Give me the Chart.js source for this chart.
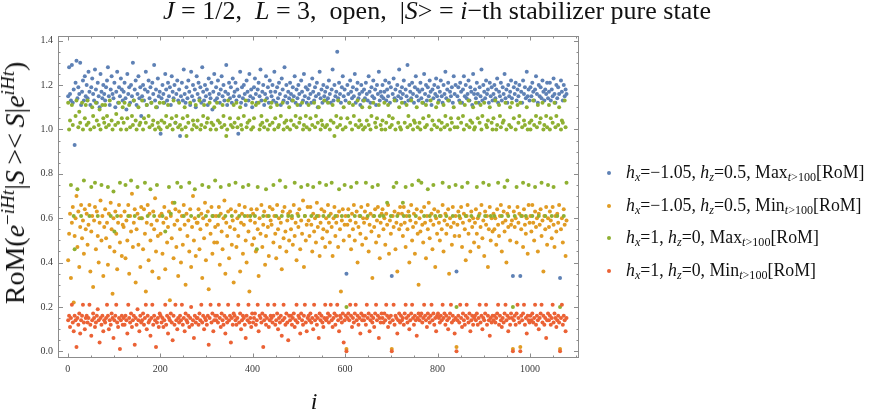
<!DOCTYPE html>
<html>
<head>
<meta charset="utf-8">
<script src="https://cdn.jsdelivr.net/npm/chart.js@4.4.1/dist/chart.umd.min.js"></script>
<style>
  html, body { margin: 0; padding: 0; background: #fff; }
  #wrap { position: relative; width: 872px; height: 415px; overflow: hidden; font-family: 'Liberation Serif', 'Times New Roman', serif; color: #111; }
  #chart { position: absolute; left: 0; top: 0; }
  .title { position: absolute; left: 437px; top: -2px; transform: translateX(-50%); font-size: 26px; white-space: pre; line-height: 1; }
  .ylab { position: absolute; left: 15px; top: 183px; transform: translate(-50%, -50%) rotate(-90deg); font-size: 28px; white-space: pre; line-height: 1; }
  .xlab { position: absolute; left: 314px; top: 389px; transform: translateX(-50%); font-size: 24px; font-style: italic; line-height: 1; }
  .legend { position: absolute; left: 605px; top: 161px; font-size: 17.8px; }
  .legend div { position: relative; height: 32.7px; padding-left: 21px; white-space: pre; line-height: 22px; }
  .legend span.dot { position: absolute; left: 2px; top: 10px; width: 4px; height: 4px; border-radius: 50%; }
  sub, sup { font-size: 0.68em; line-height: 0; }
  sup { vertical-align: 0.55em; }
  sub { vertical-align: -0.25em; }
</style>
</head>
<body>
<div id="wrap">
  <canvas id="chart" width="872" height="415"></canvas>
  <div class="title"><i>J</i> = 1/2,  <i>L</i> = 3,  open,  |<i>S</i>&gt; = <i>i</i>−th stabilizer pure state</div>
  <div class="ylab">RoM(<i>e</i><sup>−<i>iHt</i></sup>|<i>S</i>&thinsp;&gt;&lt;&thinsp;<i>S</i>|<i>e</i><sup><i>iHt</i></sup>)</div>
  <div class="xlab">i</div>
  <div class="legend" id="legend"></div>
</div>
<script>
// Valores x100, un punto cada 2 estados (i = 1, 3, 5, ... 1079)
const iStep = 2;

// hx=-1.05, hz=0.5, Max[RoM]
const maxHx105 = [
  115,128,116,113,129,112,118,93,121,131,114,119,116,130,111,117,122,113,124,115,
  120,114,126,117,111,119,123,116,113,127,118,112,121,115,110,125,117,114,120,116,
  113,119,122,128,115,111,118,124,116,114,121,110,117,126,112,119,115,123,118,113,
  117,121,114,109,125,116,119,112,120,115,130,113,118,122,111,116,124,114,119,106,
  115,120,113,118,126,111,117,122,114,119,112,121,116,129,113,118,110,123,115,117,
  98,114,120,116,112,125,118,113,121,115,119,111,124,117,114,120,103,116,122,113,
  118,97,115,121,113,127,116,112,119,114,122,117,111,126,115,120,113,118,110,124,
  116,121,114,119,112,128,117,113,120,115,118,111,123,116,114,121,109,117,125,113,
  119,114,122,116,112,118,124,115,120,113,117,129,111,116,121,114,119,112,123,115,
  117,121,113,118,98,115,126,112,119,114,120,116,111,122,117,113,125,115,118,110,
  114,119,123,116,112,118,121,115,127,113,117,120,111,116,124,114,119,112,122,117,
  115,120,113,126,117,112,119,114,121,116,111,123,118,113,128,115,120,112,117,114,
  121,116,113,119,115,124,112,118,114,120,116,111,122,117,113,125,115,119,112,118,
  114,120,116,112,123,117,113,119,115,121,110,116,126,114,118,112,120,115,117,113,
  119,114,122,116,112,118,127,113,120,115,117,135,114,121,116,112,119,124,115,118,
  113,35,120,116,112,122,117,114,119,115,125,112,118,121,114,116,111,120,117,113,
  118,114,121,116,113,124,117,112,119,115,122,114,118,111,120,116,126,113,117,115,
  120,114,117,122,113,118,115,121,112,119,34,116,123,114,118,113,120,115,127,117,
  114,119,116,122,112,118,115,129,113,120,117,114,121,116,112,119,124,115,118,113,
  117,121,114,118,112,125,116,120,113,119,115,122,117,111,118,114,120,116,123,115,
  119,113,117,122,115,112,120,116,126,114,118,121,113,117,115,119,112,124,116,120,
  36,115,119,113,121,117,112,118,124,115,120,114,116,122,113,119,117,111,125,116,
  118,114,121,116,112,119,115,127,113,120,117,114,122,116,118,112,121,115,119,113,
  116,120,114,118,123,112,117,115,121,113,119,116,125,114,118,112,120,115,117,122,
  114,34,119,116,121,113,118,115,120,34,117,112,122,116,119,114,126,115,118,113,
  119,115,121,117,113,118,124,116,112,120,115,119,114,122,117,113,118,116,121,114,
  117,121,113,118,115,123,116,112,120,114,119,116,33,122,117,113,120,115,118,116
];

// hx=-1.05, hz=0.5, Min[RoM]
const minHx105 = [
  41,53,62,33,58,65,22,52,60,70,47,63,38,56,66,51,59,44,64,55,
  62,48,57,66,36,54,61,29,59,65,46,63,52,40,58,68,50,61,34,56,
  64,51,58,39,62,47,67,55,26,60,45,63,53,37,58,66,49,61,43,57,
  56,63,42,59,50,66,35,61,54,71,47,58,64,31,55,62,48,60,38,65,
  60,46,64,53,27,58,66,41,62,50,57,36,63,55,69,45,59,52,33,61,
  53,62,44,58,65,37,60,49,56,63,23,61,51,67,42,57,64,47,59,34,
  63,55,40,61,48,66,57,30,62,52,59,45,64,38,56,70,50,60,43,58,
  58,64,46,55,62,33,60,51,67,41,57,63,28,59,53,65,44,61,49,56,
  61,49,57,65,39,62,54,46,60,68,35,58,52,63,42,56,64,48,59,31,
  55,63,47,60,52,66,36,58,62,44,57,65,50,40,61,54,27,59,64,48,
  62,51,58,45,64,55,34,60,53,66,47,57,63,39,52,61,56,43,65,59,
  57,64,49,61,53,42,66,55,60,47,58,37,63,51,65,54,45,59,62,50,
  63,55,60,48,66,52,58,41,62,56,64,46,59,53,68,38,61,50,57,65,
  59,52,65,57,45,62,54,60,49,67,56,61,43,58,64,51,55,63,47,60,
  54,66,58,49,62,56,43,60,65,52,58,61,47,63,55,27,59,64,50,57,
  61,1,57,64,52,59,46,62,55,66,50,58,63,40,56,61,53,65,48,60,
  58,63,51,60,66,45,57,62,54,33,61,56,64,49,59,65,52,42,58,62,
  64,55,60,48,62,57,66,44,59,53,1,61,56,63,46,58,36,62,55,65,
  57,62,52,65,58,47,61,55,63,40,59,66,50,56,62,44,58,64,53,30,
  60,54,63,57,49,65,58,42,61,55,67,51,59,62,46,57,64,38,60,53,
  63,58,50,61,55,66,45,59,62,53,57,64,35,60,56,48,65,58,52,61,
  2,57,63,52,60,65,47,58,62,55,41,61,66,53,59,45,63,56,60,49,
  58,64,53,60,47,62,56,66,51,59,43,63,57,61,38,55,65,50,60,54,
  62,55,60,48,64,57,52,61,66,45,58,63,54,59,40,62,56,65,50,57,
  59,1,63,56,60,49,65,58,62,2,55,61,47,64,57,53,60,44,66,58,
  61,54,66,58,50,63,56,60,45,62,57,64,52,59,36,61,55,65,48,60,
  56,63,59,51,65,57,47,61,54,62,58,66,1,55,60,49,64,57,43,59
];

// hx=1, hz=0, Max[RoM]
const maxHx1 = [
  112,100,104,75,111,102,61,46,106,113,73,101,108,103,61,112,100,77,105,111,
  102,113,103,61,100,74,110,106,101,76,112,104,61,102,109,100,75,111,105,103,
  111,101,106,74,102,113,61,104,100,72,54,102,107,61,103,112,76,100,105,110,
  103,112,75,100,105,61,111,101,77,106,102,113,61,104,100,74,110,102,103,60,
  113,100,105,76,103,111,61,106,101,73,112,102,104,61,100,110,75,103,101,112,
  100,104,61,112,103,54,106,101,111,74,102,62,105,100,113,67,103,106,76,101,
  112,102,74,100,105,61,110,101,97,106,103,76,112,61,100,104,102,73,111,101,
  104,61,113,100,102,75,106,111,101,61,103,105,74,112,100,103,61,102,110,77,
  100,112,104,61,103,74,101,111,106,102,61,97,100,113,75,105,102,61,101,111,
  103,76,112,101,105,61,110,102,100,74,106,61,113,101,103,75,104,61,100,112,
  101,105,61,111,46,74,112,100,102,106,103,61,101,113,73,104,100,61,102,110,
  112,103,75,100,105,61,111,101,102,77,106,61,112,100,103,74,104,101,61,110,
  100,104,61,113,102,76,106,101,111,61,103,105,74,112,100,102,61,106,101,75,
  111,100,105,61,102,74,112,101,106,61,103,110,76,100,104,102,61,113,101,75,
  102,112,61,100,104,76,111,103,97,61,106,101,113,73,102,105,61,100,110,75,
  101,20,105,61,112,103,74,100,111,106,61,102,76,113,101,104,61,102,110,100,
  113,101,76,104,61,102,110,100,106,74,112,61,103,101,105,75,111,61,102,100,
  104,61,112,100,103,67,111,106,101,61,102,105,74,113,100,76,61,103,110,101,
  100,112,67,61,103,74,111,101,106,61,102,113,75,100,104,103,61,110,101,77,
  103,100,76,112,105,61,101,111,102,73,106,61,113,100,104,75,102,61,110,101,
  112,104,61,100,103,76,111,101,106,61,102,113,74,100,105,103,61,110,101,75,
  20,101,105,61,112,103,74,106,100,111,61,102,76,113,101,104,61,103,110,100,
  101,112,74,105,61,103,111,100,106,76,112,61,102,101,104,75,110,61,103,100,
  105,61,113,100,102,76,111,106,101,61,103,104,74,112,100,77,61,102,110,101,
  112,20,105,61,100,74,111,103,106,112,61,101,76,104,102,61,110,100,75,103,
  100,104,61,113,102,74,106,101,111,61,103,105,76,112,100,102,61,106,101,75,
  111,100,105,61,103,74,112,101,106,61,102,110,20,100,104,103,61,113,101,76
];

// hx=1, hz=0, Min[RoM]
const minHx1 = [
  14,16,11,15,21,13,9,16,14,2,15,12,17,8,14,16,21,13,10,15,
  16,13,15,21,12,7,14,17,15,11,13,16,19,14,4,15,12,16,9,14,
  13,15,21,16,10,14,12,17,15,6,14,16,21,13,11,15,1,14,16,12,
  15,12,16,14,8,21,15,13,17,11,14,16,3,15,12,19,14,9,16,13,
  14,17,12,15,21,10,16,13,14,7,15,21,12,16,14,2,13,15,11,17,
  16,13,15,11,14,21,12,16,8,15,14,17,13,5,16,12,21,14,10,15,
  13,16,14,21,12,15,9,17,14,13,16,11,15,20,12,14,6,16,13,15,
  15,12,17,14,21,13,16,10,15,14,12,16,3,15,21,13,17,9,14,16,
  14,16,13,21,15,11,17,14,12,16,8,15,13,21,14,16,4,15,12,17,
  16,14,12,15,21,13,17,10,14,16,15,12,6,16,14,21,13,15,11,17,
  13,15,17,12,14,21,9,16,15,13,17,2,14,16,12,15,21,11,14,16,
  15,13,16,21,12,14,17,10,15,13,16,7,14,21,15,12,17,13,5,16,
  14,16,12,15,17,11,14,21,13,16,15,8,17,14,12,16,21,13,9,15,
  16,14,17,13,15,10,21,14,16,12,15,6,17,14,16,13,11,15,21,14,
  15,17,13,16,21,14,11,15,17,12,16,21,14,9,16,15,13,17,4,14,
  16,0,15,17,14,21,16,11,15,13,17,21,14,16,12,15,8,17,14,16,
  14,16,12,21,15,17,9,14,16,13,15,11,17,21,14,16,6,15,13,17,
  15,13,17,14,21,16,11,15,13,16,0,14,21,12,16,15,8,14,17,13,
  16,14,15,12,17,21,15,13,16,10,14,17,21,15,12,16,14,7,15,17,
  14,16,17,13,15,21,16,14,11,17,15,13,16,21,14,17,12,15,9,16,
  17,15,13,16,14,21,15,17,12,16,14,10,15,17,21,13,16,14,8,15,
  0,14,16,13,21,15,11,17,14,12,16,21,15,13,17,9,14,16,12,15,
  16,14,17,12,15,21,13,16,10,15,14,17,21,12,16,14,7,15,13,16,
  14,16,13,15,17,21,12,16,14,11,15,13,17,21,14,16,9,15,12,17,
  15,0,14,16,12,17,21,15,13,0,16,14,17,21,12,15,8,16,14,13,
  16,14,17,13,15,21,12,16,14,10,15,17,21,13,16,12,15,6,14,17,
  14,16,12,15,21,13,17,15,11,14,16,13,0,15,21,12,16,14,9,15
];

// Etiquetas de los ejes
const xTickValues = [0, 200, 400, 600, 800, 1000];
const yTickValues = [0, 0.2, 0.4, 0.6, 0.8, 1.0, 1.2, 1.4];

const seriesNames = [
  '<i>h</i><sub><i>x</i></sub>=−1.05, <i>h</i><sub><i>z</i></sub>=0.5, Max<sub><i>t</i>&gt;100</sub>[RoM]',
  '<i>h</i><sub><i>x</i></sub>=−1.05, <i>h</i><sub><i>z</i></sub>=0.5, Min<sub><i>t</i>&gt;100</sub>[RoM]',
  '<i>h</i><sub><i>x</i></sub>=1, <i>h</i><sub><i>z</i></sub>=0, Max<sub><i>t</i>&gt;100</sub>[RoM]',
  '<i>h</i><sub><i>x</i></sub>=1, <i>h</i><sub><i>z</i></sub>=0, Min<sub><i>t</i>&gt;100</sub>[RoM]'
];
const seriesColors = ['#5E81B5', '#E19C24', '#8FB032', '#EB6235'];
const seriesValues = [maxHx105, minHx105, maxHx1, minHx1];

function toPoints(vals) {
  return vals.map((v, k) => ({ x: 1 + iStep * k, y: v / 100 }));
}

// Marco con marcas hacia dentro (estilo Mathematica)
const framePlugin = {
  id: 'frame',
  afterDatasetsDraw(chart) {
    const { ctx, chartArea: a, scales } = chart;
    const xs = scales.x, ys = scales.y;
    ctx.save();
    ctx.strokeStyle = '#8c8c8c';
    ctx.lineWidth = 1;
    ctx.strokeRect(a.left + 0.5, a.top + 0.5, a.right - a.left - 1, a.bottom - a.top - 1);
    ctx.beginPath();
    for (let n = 0; n <= 22; n++) {
      const v = n * 50;
      const px = Math.round(xs.getPixelForValue(v)) + 0.5;
      const len = n % 4 === 0 ? 4.5 : 2.5;
      ctx.moveTo(px, a.bottom); ctx.lineTo(px, a.bottom - len);
      ctx.moveTo(px, a.top); ctx.lineTo(px, a.top + len);
    }
    for (let n = 0; n <= 28; n++) {
      const v = n * 0.05;
      const py = Math.round(ys.getPixelForValue(v)) + 0.5;
      const len = n % 4 === 0 ? 5 : 2.5;
      ctx.moveTo(a.left, py); ctx.lineTo(a.left + len, py);
      ctx.moveTo(a.right, py); ctx.lineTo(a.right - len, py);
    }
    ctx.stroke();
    ctx.restore();
  }
};

const tickFont = { family: "'Liberation Serif', 'Times New Roman', serif", size: 10 };

function init() {
  const datasets = seriesValues.map((vals, s) => ({
    label: 'serie' + s,
    data: toPoints(vals),
    backgroundColor: seriesColors[s],
    borderWidth: 0,
    pointRadius: 2,
    order: 4 - s
  }));

  new Chart(document.getElementById('chart'), {
    type: 'scatter',
    data: { datasets },
    plugins: [framePlugin],
    options: {
      responsive: false,
      animation: false,
      devicePixelRatio: 1,
      layout: { padding: { left: 0, top: 36, right: 293, bottom: 0 } },
      plugins: { legend: { display: false }, tooltip: { enabled: false } },
      scales: {
        x: {
          type: 'linear', min: -21, max: 1106,
          grid: { display: false, drawTicks: false },
          border: { display: false },
          afterBuildTicks: s => { s.ticks = xTickValues.map(v => ({ value: v })); },
          afterFit: s => { s.height = 57; },
          ticks: { font: tickFont, color: '#3a3a3a', padding: 5, maxRotation: 0, callback: v => String(v) }
        },
        y: {
          type: 'linear', min: -0.03, max: 1.421,
          grid: { display: false, drawTicks: false },
          border: { display: false },
          afterBuildTicks: s => { s.ticks = yTickValues.map(v => ({ value: v })); },
          afterFit: s => { s.width = 58; },
          ticks: { font: tickFont, color: '#3a3a3a', padding: 5, callback: v => v.toFixed(1) }
        }
      }
    }
  });

  // Leyenda
  document.getElementById('legend').innerHTML = seriesNames.map((name, s) =>
    `<div><span class="dot" style="background:${seriesColors[s]}"></span>${name}</div>`
  ).join('');
}

document.addEventListener('DOMContentLoaded', init);
</script>
</body>
</html>
